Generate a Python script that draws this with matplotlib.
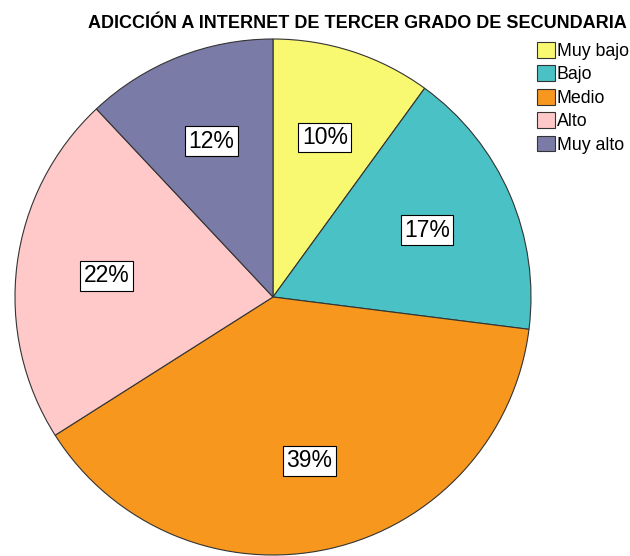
import matplotlib
matplotlib.use("Agg")
import matplotlib.pyplot as plt
from matplotlib.patches import Patch

plt.rcParams['font.family'] = ['Liberation Sans', 'DejaVu Sans']

# Data
categories = ["Muy bajo", "Bajo", "Medio", "Alto", "Muy alto"]
percentages = [10, 17, 39, 22, 12]
colors = ["#F9F871", "#4AC1C5", "#F7971E", "#FFC9C9", "#7B7BA8"]
title = "ADICCIÓN A INTERNET DE TERCER GRADO DE SECUNDARIA"

fig = plt.figure(figsize=(6.3, 5.56), dpi=100)
# pie axes: centre (273, 297) px, radius ~258 px
ax = fig.add_axes([15 / 630, 1 / 556, 516 / 630, 516 / 556])

wedges, texts, autotexts = ax.pie(
    percentages, colors=colors, startangle=90, counterclock=False,
    autopct="%d%%", pctdistance=0.65,
    wedgeprops=dict(edgecolor="#333333", linewidth=0.8),
    textprops=dict(fontsize=16.5, color="black"),
)
for t in autotexts:
    t.set_bbox(dict(facecolor="white", edgecolor="black", linewidth=0.8, pad=2.5))
ax.set_xlim(-1, 1)
ax.set_ylim(-1, 1)
ax.set_aspect("equal")

fig.text(357 / 630, 1 - 23 / 556, title, ha="center", va="center",
         fontsize=13, fontweight="bold")

handles = [Patch(facecolor=c, edgecolor="#333333", linewidth=0.8) for c in colors]
fig.legend(handles, categories, loc="upper left", bbox_to_anchor=(537 / 630, 1 - 42 / 556),
           frameon=False, fontsize=12.8, handlelength=1.0, handleheight=1.0,
           handletextpad=0.1, labelspacing=0.3, borderpad=0, borderaxespad=0)

fig.savefig("out.png", dpi=100)
